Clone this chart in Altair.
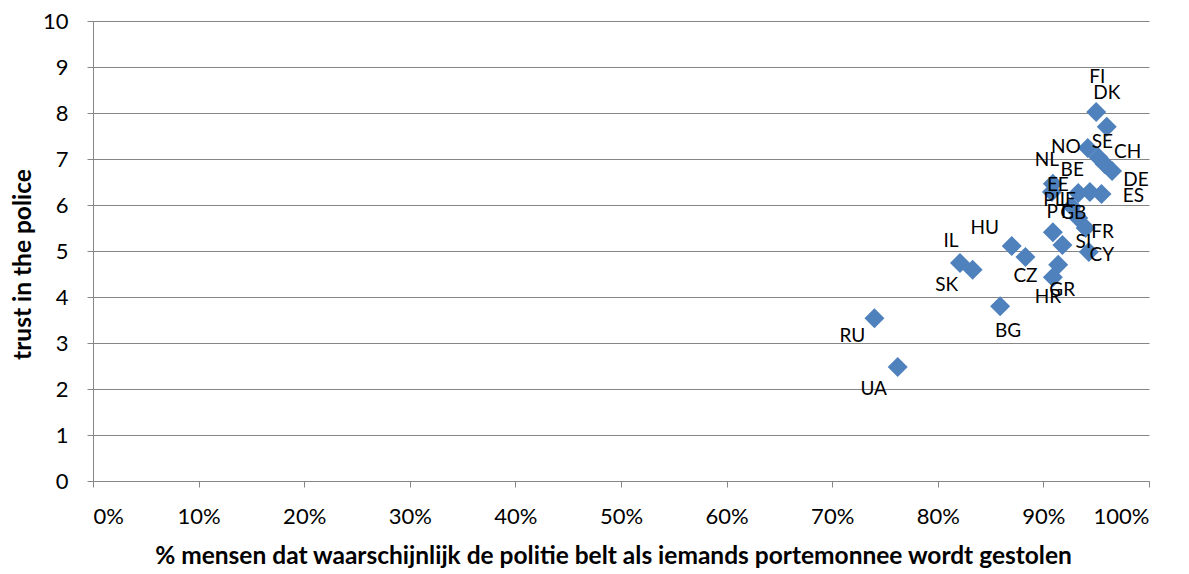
import altair as alt
import pandas as pd

# Data
countries = ["FI", "DK", "NO", "SE", "CH", "DE", "NL", "EE", "BE", "IE", "ES",
             "PT", "GB", "FR", "SI", "PL", "CY", "GR", "HR", "HU", "CZ", "IL",
             "SK", "BG", "RU", "UA"]
police_call_pct = [95.0, 96.0, 94.2, 95.2, 95.8, 96.5, 90.9, 90.8, 93.3, 94.4, 95.5,
                   92.7, 93.3, 94.0, 91.8, 90.9, 94.3, 91.4, 90.9, 87.0, 88.3, 82.1,
                   83.3, 85.9, 74.0, 76.2]
trust_police = [8.02, 7.70, 7.24, 7.04, 6.89, 6.74, 6.46, 6.28, 6.26, 6.28, 6.24,
                5.96, 5.72, 5.50, 5.13, 5.41, 4.98, 4.70, 4.43, 5.11, 4.87, 4.74,
                4.59, 3.80, 3.54, 2.48]

# label placement (pixel offsets from each point), as in the reference
label_dx = [1, 0, -22, 4, 23, 24, -6, 6, -6, -22, 32,
            -14, -5, 17, 21, 1, 13, 4, -5, -27, 0, -9,
            -26, 8, -22, -24]
label_dy = [-35, -34, -1, -15, -12, 9, -24, -7, -23, 8, 2,
            5, -5, 4, -3, -32, 3, 25, 20, -18, 19, -22,
            15, 25, 18, 22]

df = pd.DataFrame({"country": countries, "pct": police_call_pct, "trust": trust_police})

FONT = "Lato"
GRAY = "#868686"

x_enc = alt.X(
    "pct:Q",
    scale=alt.Scale(domain=[0, 100], nice=False),
    axis=alt.Axis(
        values=list(range(0, 101, 10)),
        labelExpr="datum.value + '%'",
        title="% mensen dat waarschijnlijk de politie belt als iemands portemonnee wordt gestolen",
        grid=False,
        domainColor=GRAY, tickColor=GRAY, tickSize=6,
        labelFont=FONT, labelFontSize=22, labelColor="black", labelPadding=19,
        titleFont=FONT, titleFontSize=24.5, titleFontWeight="bold", titleColor="black",
        titleX=520, titleY=75, titleAlign="center", titleBaseline="middle",
    ),
)
y_enc = alt.Y(
    "trust:Q",
    scale=alt.Scale(domain=[0, 10], nice=False),
    axis=alt.Axis(
        values=list(range(0, 11)),
        title="trust in the police",
        grid=True, gridColor=GRAY, gridWidth=1,
        domainColor=GRAY, tickColor=GRAY, tickSize=6,
        labelFont=FONT, labelFontSize=22, labelColor="black", labelPadding=19,
        titleFont=FONT, titleFontSize=24.5, titleFontWeight="bold", titleColor="black",
        titleX=-70, titleY=243, titleAngle=270, titleAlign="center", titleBaseline="middle",
    ),
)

base = alt.Chart(df)
points = base.mark_point(shape="diamond", filled=True, size=400, color="#4F81BD",
                         opacity=1).encode(x=x_enc, y=y_enc)

label_layers = []
for c, dx, dy in zip(countries, label_dx, label_dy):
    label_layers.append(
        base.transform_filter(alt.datum.country == c)
        .mark_text(dx=dx, dy=dy, font=FONT, fontSize=19, color="black",
                   align="center", baseline="middle")
        .encode(x="pct:Q", y="trust:Q", text="country:N")
    )

chart = (
    alt.layer(points, *label_layers)
    .properties(
        width=1056, height=460,
        autosize=alt.AutoSizeParams(type="none"),
        padding={"left": 85, "top": 13, "right": 20, "bottom": 90},
    )
    .configure_view(stroke=None)
)

chart.save("out.html", embed_options={"renderer": "svg", "actions": False})
